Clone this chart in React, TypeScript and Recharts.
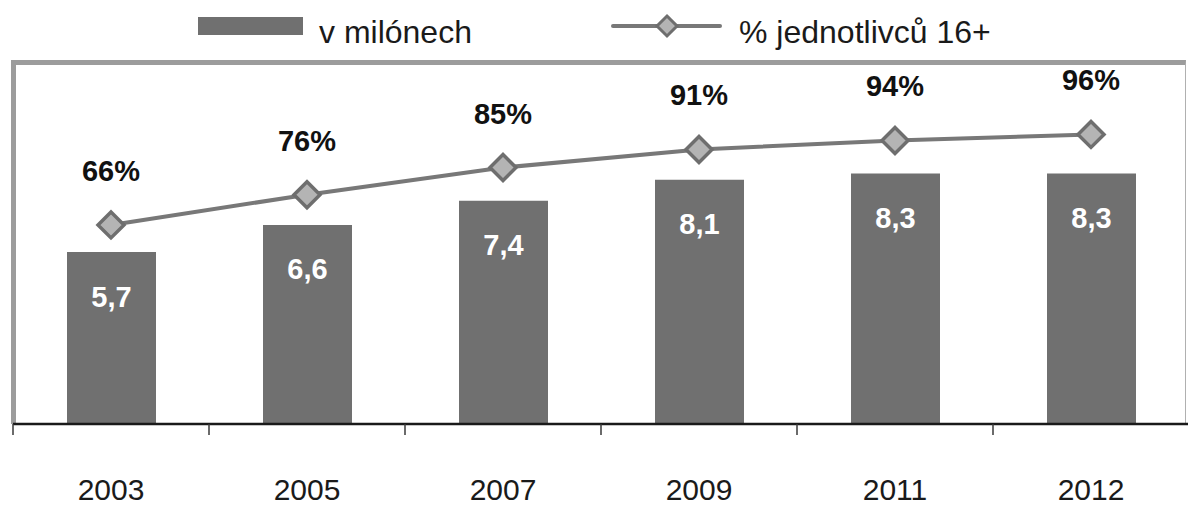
import { ComposedChart, Bar, Line, XAxis, YAxis, LabelList } from 'recharts';

// Uživatelé internetu v ČR
const years = ['2003', '2005', '2007', '2009', '2011', '2012'];
const millions = [5.7, 6.6, 7.4, 8.1, 8.3, 8.3];
const percentOfPeople = [66, 76, 85, 91, 94, 96];

const data = years.map((year, i) => ({
  year,
  mil: millions[i],
  pct: percentOfPeople[i],
}));

const CHART_W = 1190;
const CHART_H = 507;
const MARGIN = { top: 62, right: 1, left: 13, bottom: 0 };
const BAND = (CHART_W - MARGIN.left - MARGIN.right) / years.length;

const FONT = "'Liberation Sans', Arial, Helvetica, sans-serif";
const BAR_FILL = '#707070';
const LINE_STROKE = '#787878';
const DOT_FILL = '#b4b4b4';
const DOT_STROKE = '#6e6e6e';

const Diamond = ({ cx, cy, r, sw }: { cx: number; cy: number; r: number; sw: number }) => (
  <path
    d={`M${cx},${cy - r} L${cx + r},${cy} L${cx},${cy + r} L${cx - r},${cy} Z`}
    fill={DOT_FILL}
    stroke={DOT_STROKE}
    strokeWidth={sw}
  />
);

// tick line sits on the boundary between categories, label in the middle
const YearTick = (props: any) => {
  const { x, y, payload, index } = props;
  const left = x - BAND / 2;
  return (
    <g>
      <line x1={left} y1={y} x2={left} y2={y + 11} stroke="#3a3a3a" strokeWidth={1.5} />
      {index === years.length - 1 && (
        <line x1={x + BAND / 2} y1={y} x2={x + BAND / 2} y2={y + 11} stroke="#3a3a3a" strokeWidth={1.5} />
      )}
      <text x={x} y={y + 76} textAnchor="middle" fontSize={30} fill="#1a1a1a" fontFamily={FONT}>
        {payload.value}
      </text>
    </g>
  );
};

const LegendRow = () => (
  <svg width={1188} height={56} style={{ position: 'absolute', left: 0, top: 0 }}>
    <rect x={198} y={17} width={105} height={18} fill={BAR_FILL} />
    <text x={319} y={43} fontSize={32} fill="#1a1a1a" fontFamily={FONT}>
      v milónech
    </text>
    <line x1={613} y1={26} x2={720} y2={26} stroke={LINE_STROKE} strokeWidth={4} strokeLinecap="round" />
    <Diamond cx={667} cy={26} r={10} sw={3} />
    <text x={739} y={43} fontSize={32} fill="#1a1a1a" fontFamily={FONT}>
      % jednotlivců 16+
    </text>
  </svg>
);

export default function App() {
  return (
    <div
      style={{
        position: 'absolute',
        left: 0,
        top: 0,
        width: 1188,
        height: CHART_H,
        overflow: 'hidden',
        background: '#fff',
        fontFamily: FONT,
      }}
    >
      <LegendRow />
      {/* plot frame */}
      <div
        style={{
          position: 'absolute',
          left: 11,
          top: 60,
          width: 1175,
          height: 364,
          boxSizing: 'border-box',
          borderLeft: '5px solid #9c9c9c',
          borderTop: '5px solid #9c9c9c',
          borderRight: '1.5px solid #b0b0b0',
        }}
      />
      <div style={{ position: 'absolute', left: 0, top: 0 }}>
        <ComposedChart width={CHART_W} height={CHART_H} data={data} margin={MARGIN}>
          <XAxis
            dataKey="year"
            height={83}
            tickLine={false}
            tickSize={0}
            tickMargin={0}
            axisLine={{ stroke: '#1a1a1a', strokeWidth: 2.5 }}
            tick={<YearTick />}
            interval={0}
          />
          <YAxis yAxisId="mil" domain={[0, 12]} hide />
          <YAxis yAxisId="pct" domain={[0, 120]} hide />
          <Bar yAxisId="mil" dataKey="mil" fill={BAR_FILL} barSize={89} isAnimationActive={false}>
            <LabelList
              dataKey="mil"
              position="insideTop"
              offset={34}
              fill="#fff"
              fontSize={29}
              fontWeight="bold"
              fontFamily={FONT}
              formatter={(v: any) => String(v).replace('.', ',')}
            />
          </Bar>
          <Line
            yAxisId="pct"
            type="linear"
            dataKey="pct"
            stroke={LINE_STROKE}
            strokeWidth={4}
            dot={(p: any) => <Diamond key={p.index} cx={p.cx} cy={p.cy} r={13} sw={3.5} />}
            activeDot={false}
            isAnimationActive={false}
          >
            <LabelList
              dataKey="pct"
              position="top"
              offset={44}
              fill="#111"
              fontSize={29}
              fontWeight="bold"
              fontFamily={FONT}
              formatter={(v: any) => `${v}%`}
            />
          </Line>
        </ComposedChart>
      </div>
    </div>
  );
}
